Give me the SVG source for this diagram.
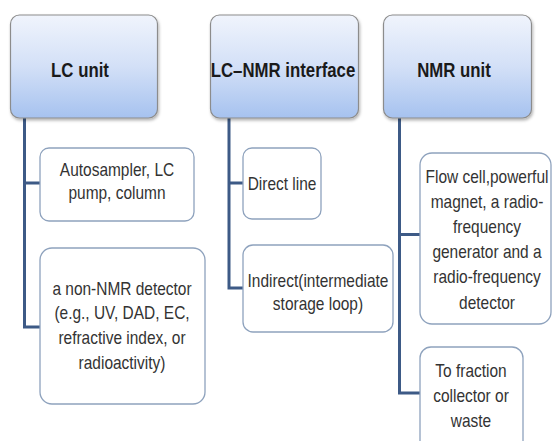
<svg xmlns="http://www.w3.org/2000/svg" width="552" height="441" viewBox="0 0 552 441">
  <defs>
    <linearGradient id="hdrGrad" x1="0" y1="0" x2="0" y2="1">
      <stop offset="0" stop-color="#f0f4fc"/>
      <stop offset="0.5" stop-color="#d3e0f7"/>
      <stop offset="1" stop-color="#a6c2ef"/>
    </linearGradient>
    <filter id="shadow" x="-10%" y="-10%" width="125%" height="130%">
      <feDropShadow dx="1" dy="2" stdDeviation="1.5" flood-color="#000" flood-opacity="0.3"/>
    </filter>
  </defs>
  <style>
    .hdr { fill: url(#hdrGrad); stroke: #8c8c8c; stroke-width: 1.2; filter: url(#shadow); }
    .child { fill: #ffffff; stroke: #8ea2bd; stroke-width: 1.3; }
    .conn { fill: none; stroke: #3d5a86; stroke-width: 3; stroke-linejoin: miter; }
    .ht { font-family: "Liberation Sans", Arial, sans-serif; font-weight: bold; font-size: 20px; fill: #1a1a1a; text-anchor: middle; }
    .ct { font-family: "Liberation Sans", Arial, sans-serif; font-size: 18px; fill: #333333; text-anchor: middle; }
  </style>
  <rect width="552" height="441" fill="#ffffff"/>

  <g id="connectors">
    <path class="conn" d="M24.5,118 V327 H40 M24.5,183 H40"/>
    <path class="conn" d="M229,118 V288 H243 M229,183 H243"/>
    <path class="conn" d="M399.5,118 V393 H420 M399.5,234.5 H420"/>
  </g>

  <g id="lc-unit">
    <rect class="hdr" x="10.5" y="15" width="147" height="103" rx="9"/>
    <g transform="translate(80 0) scale(0.84 1)"><text class="ht" x="0" y="77">LC unit</text></g>
  </g>
  <g id="lc-nmr-interface">
    <rect class="hdr" x="210.5" y="15" width="148" height="103" rx="9"/>
    <g transform="translate(283 0) scale(0.84 1)"><text class="ht" x="0" y="77">LC–NMR interface</text></g>
  </g>
  <g id="nmr-unit">
    <rect class="hdr" x="383.5" y="15" width="148" height="103" rx="9"/>
    <g transform="translate(454 0) scale(0.84 1)"><text class="ht" x="0" y="77">NMR unit</text></g>
  </g>

  <g id="lc-child-1">
    <rect class="child" x="40" y="148" width="154" height="73" rx="9"/>
    <g transform="translate(117 0) scale(0.86 1)">
      <text class="ct" x="0" y="176">Autosampler, LC</text>
      <text class="ct" x="0" y="199">pump, column</text>
    </g>
  </g>
  <g id="lc-child-2">
    <rect class="child" x="40" y="248" width="165" height="156" rx="12"/>
    <g transform="translate(122 0) scale(0.86 1)">
      <text class="ct" x="0" y="295">a non-NMR detector</text>
      <text class="ct" x="0" y="319">(e.g., UV, DAD, EC,</text>
      <text class="ct" x="0" y="344">refractive index, or</text>
      <text class="ct" x="0" y="369">radioactivity)</text>
    </g>
  </g>

  <g id="interface-child-1">
    <rect class="child" x="243" y="148" width="78" height="71" rx="9"/>
    <g transform="translate(282 0) scale(0.86 1)">
      <text class="ct" x="0" y="190">Direct line</text>
    </g>
  </g>
  <g id="interface-child-2">
    <rect class="child" x="243" y="245" width="150" height="87" rx="10"/>
    <g transform="translate(318 0) scale(0.86 1)">
      <text class="ct" x="0" y="287">Indirect(intermediate</text>
      <text class="ct" x="0" y="310">storage loop)</text>
    </g>
  </g>

  <g id="nmr-child-1">
    <rect class="child" x="420" y="153" width="131" height="171" rx="12"/>
    <g transform="translate(487 0) scale(0.86 1)">
      <text class="ct" x="0" y="183">Flow cell,powerful</text>
      <text class="ct" x="0" y="208">magnet, a radio-</text>
      <text class="ct" x="0" y="233">frequency</text>
      <text class="ct" x="0" y="258">generator and a</text>
      <text class="ct" x="0" y="283">radio-frequency</text>
      <text class="ct" x="0" y="309">detector</text>
    </g>
  </g>
  <g id="nmr-child-2">
    <rect class="child" x="420" y="347" width="103" height="110" rx="11"/>
    <g transform="translate(471 0) scale(0.86 1)">
      <text class="ct" x="0" y="377">To fraction</text>
      <text class="ct" x="0" y="402">collector or</text>
      <text class="ct" x="0" y="427">waste</text>
    </g>
  </g>
</svg>
